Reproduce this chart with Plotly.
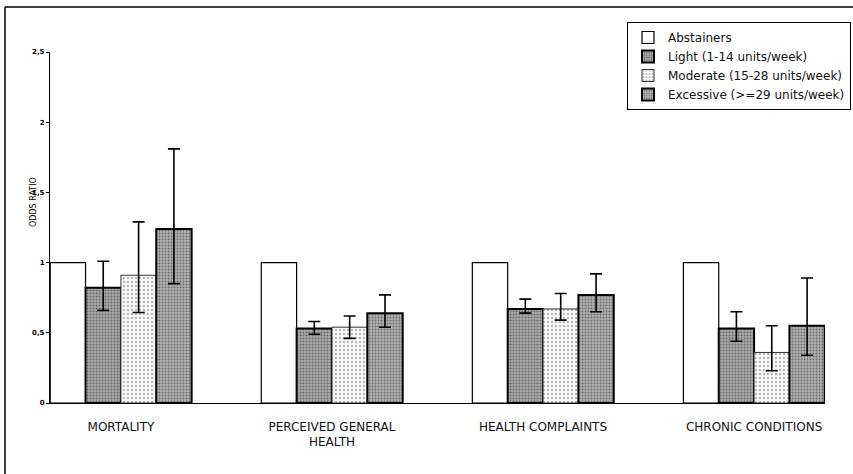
import plotly.graph_objects as go

categories = ["MORTALITY", "PERCEIVED GENERAL<br>HEALTH", "HEALTH COMPLAINTS", "CHRONIC CONDITIONS"]
series_names = ["Abstainers", "Light (1-14 units/week)", "Moderate (15-28 units/week)", "Excessive (>=29 units/week)"]

abstainers = [1.0, 1.0, 1.0, 1.0]
light = [0.82, 0.53, 0.67, 0.53]
light_lo = [0.66, 0.49, 0.64, 0.44]
light_hi = [1.01, 0.58, 0.74, 0.65]
moderate = [0.91, 0.54, 0.67, 0.36]
moderate_lo = [0.645, 0.46, 0.59, 0.23]
moderate_hi = [1.29, 0.62, 0.78, 0.55]
excessive = [1.24, 0.64, 0.77, 0.55]
excessive_lo = [0.85, 0.54, 0.65, 0.34]
excessive_hi = [1.81, 0.77, 0.92, 0.89]

y_tickvals = [0, 0.5, 1, 1.5, 2, 2.5]
y_ticktext = ["0", "0,5", "1", "1,5", "2", "2,5"]

FONT = "DejaVu Sans"

def err(vals, lo, hi):
    return dict(type="data", symmetric=False,
                array=[h - v for v, h in zip(vals, hi)],
                arrayminus=[v - l for v, l in zip(vals, lo)],
                color="black", thickness=1.6, width=6)

fig = go.Figure()
fig.add_trace(go.Bar(
    name=series_names[0], x=categories, y=abstainers,
    marker=dict(color="white", line=dict(color="black", width=1.2)),
))
fig.add_trace(go.Bar(
    name=series_names[1], x=categories, y=light,
    marker=dict(color="#9a9a9a", line=dict(color="black", width=2),
                pattern=dict(shape=".", fgcolor="#222222", bgcolor="#aaaaaa",
                             size=3, solidity=0.35)),
    error_y=err(light, light_lo, light_hi),
))
fig.add_trace(go.Bar(
    name=series_names[2], x=categories, y=moderate,
    marker=dict(color="#e6e6e6", line=dict(color="#333333", width=1),
                pattern=dict(shape=".", fgcolor="#444444", bgcolor="#f6f6f6",
                             size=4, solidity=0.18)),
    error_y=err(moderate, moderate_lo, moderate_hi),
))
fig.add_trace(go.Bar(
    name=series_names[3], x=categories, y=excessive,
    marker=dict(color="#9a9a9a", line=dict(color="black", width=2),
                pattern=dict(shape=".", fgcolor="#222222", bgcolor="#b0b0b0",
                             size=3, solidity=0.3)),
    error_y=err(excessive, excessive_lo, excessive_hi),
))

W, H = 853, 474
L, R, T, B = 50, 825, 52, 403

def px_x(p):
    return (p - L) / (R - L)

def px_y(p):
    return (B - p) / (B - T)

fig.update_layout(
    width=W, height=H,
    margin=dict(l=L, r=W - R, t=T, b=H - B, autoexpand=False),
    paper_bgcolor="white", plot_bgcolor="white",
    barmode="group", bargap=0.33, bargroupgap=0,
    font=dict(family=FONT, color="#111111"),
    showlegend=True,
    legend=dict(
        x=px_x(851), xanchor="right", y=px_y(22), yanchor="top",
        bgcolor="white", bordercolor="black", borderwidth=1,
        font=dict(family=FONT, size=12, color="#111111"),
        itemwidth=30, tracegroupgap=0,
    ),
    xaxis=dict(
        range=[-0.336, 3.336], showgrid=False, zeroline=False,
        showline=True, linecolor="black", linewidth=1.2,
        ticks="outside", ticklen=12, tickcolor="rgba(0,0,0,0)",
        tickfont=dict(family=FONT, size=12, color="#111111"),
        automargin=False,
    ),
    yaxis=dict(
        range=[0, 2.5], showgrid=False, zeroline=False,
        showline=True, linecolor="black", linewidth=1.2,
        tickvals=y_tickvals, ticktext=y_ticktext,
        ticks="outside", ticklen=3, tickcolor="black",
        tickfont=dict(family=FONT, size=7, color="black", weight="bold"),
        automargin=False,
    ),
    annotations=[dict(
        text="ODDS RATIO", textangle=-90, showarrow=False,
        xref="paper", yref="paper", x=px_x(33), y=px_y(202),
        xanchor="center", yanchor="middle",
        font=dict(family=FONT, size=8, color="black"),
    )],
    shapes=[
        dict(type="line", xref="paper", yref="paper",
             x0=px_x(5), x1=px_x(5), y0=px_y(7), y1=px_y(474),
             line=dict(color="black", width=1.5)),
        dict(type="line", xref="paper", yref="paper",
             x0=px_x(5), x1=px_x(853), y0=px_y(7), y1=px_y(7),
             line=dict(color="black", width=1.5)),
    ],
)

fig.write_html("out.html", config={"displayModeBar": False},
               post_script="document.body.style.margin='0';")
